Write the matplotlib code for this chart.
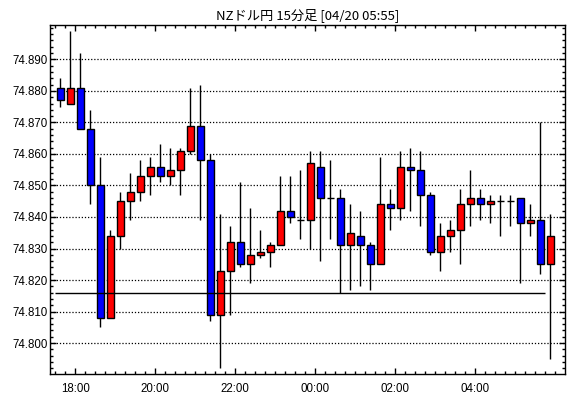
# NZD/JPY 15-minute candles
import matplotlib
matplotlib.use("Agg")
import matplotlib.pyplot as plt
from matplotlib.ticker import MultipleLocator, FixedLocator

# candle data, 17:30 .. 05:45 every 15 min
opens = [74.881, 74.876, 74.881, 74.868, 74.850, 74.808, 74.834, 74.845, 74.848, 74.853,
         74.856, 74.853, 74.855, 74.861, 74.869, 74.858, 74.809, 74.823, 74.832, 74.825,
         74.828, 74.829, 74.831, 74.842, 74.839, 74.839, 74.856, 74.846, 74.846, 74.831,
         74.834, 74.831, 74.825, 74.844, 74.843, 74.856, 74.855, 74.847, 74.829, 74.834,
         74.836, 74.844, 74.846, 74.844, 74.845, 74.845, 74.846, 74.838, 74.839, 74.825]
closes = [74.877, 74.881, 74.868, 74.850, 74.808, 74.834, 74.845, 74.848, 74.853, 74.856,
          74.853, 74.855, 74.861, 74.869, 74.858, 74.809, 74.823, 74.832, 74.825, 74.828,
          74.829, 74.831, 74.842, 74.840, 74.839, 74.857, 74.846, 74.846, 74.831, 74.835,
          74.831, 74.825, 74.844, 74.843, 74.856, 74.855, 74.847, 74.829, 74.834, 74.836,
          74.844, 74.846, 74.844, 74.845, 74.845, 74.845, 74.838, 74.839, 74.825, 74.834]
highs = [74.884, 74.899, 74.892, 74.874, 74.859, 74.836, 74.848, 74.854, 74.858, 74.859,
         74.863, 74.862, 74.862, 74.881, 74.882, 74.860, 74.841, 74.837, 74.851, 74.843,
         74.836, 74.832, 74.853, 74.853, 74.855, 74.861, 74.861, 74.858, 74.849, 74.844,
         74.842, 74.832, 74.859, 74.849, 74.861, 74.862, 74.861, 74.848, 74.838, 74.839,
         74.849, 74.855, 74.849, 74.847, 74.847, 74.847, 74.846, 74.844, 74.870, 74.841]
lows = [74.875, 74.876, 74.868, 74.844, 74.805, 74.808, 74.830, 74.839, 74.845, 74.847,
        74.851, 74.850, 74.847, 74.860, 74.839, 74.807, 74.792, 74.809, 74.824, 74.819,
        74.827, 74.824, 74.831, 74.838, 74.833, 74.830, 74.826, 74.833, 74.816, 74.817,
        74.818, 74.817, 74.825, 74.836, 74.839, 74.842, 74.837, 74.828, 74.823, 74.829,
        74.825, 74.837, 74.839, 74.838, 74.834, 74.837, 74.819, 74.834, 74.822, 74.795]
ref_level = 74.816
price_ticks = [74.800, 74.810, 74.820, 74.830, 74.840, 74.850, 74.860, 74.870, 74.880, 74.890]
tick_labels = ["18:00", "20:00", "22:00", "00:00", "02:00", "04:00"]
title = "NZドル円 15分足 [04/20 05:55]"

plt.rcParams['font.family'] = ['Liberation Sans', 'DejaVu Sans']

fig = plt.figure(figsize=(5.7, 3.98), dpi=100)
ax = fig.add_axes([49.7 / 570, 1 - 374.3 / 398, (565 - 49.7) / 570, (374.3 - 24.7) / 398])

n = len(opens)
x = list(range(n))

# wicks
ax.vlines(x, lows, highs, color="black", linewidth=1.0, zorder=2)

# bodies
for i in x:
    o, c = opens[i], closes[i]
    if c == o:
        ax.hlines(o, i - 0.33, i + 0.33, color="black", linewidth=1.0, zorder=3)
        continue
    col = "#ff0000" if c > o else "#0000ff"
    ax.bar(i, abs(c - o), bottom=min(o, c), width=0.66, color=col,
           edgecolor="black", linewidth=1.0, zorder=3)

ax.hlines(ref_level, -0.5, n - 1.5, color="black", linewidth=1.0, zorder=4)

ax.set_xlim(-1.06, 50.47)
ax.set_ylim(74.7901, 74.901)

# y axis
ax.yaxis.set_major_locator(FixedLocator(price_ticks))
ax.yaxis.set_minor_locator(MultipleLocator(0.002))
ax.yaxis.set_major_formatter(matplotlib.ticker.FormatStrFormatter("%.3f"))
ax.grid(axis="y", which="major", color="black", linestyle=(0, (1, 1.5)), linewidth=0.9)

# x axis: tick at the start of each 15 min slot, first slot is 17:30
major_pos = [1.5, 9.5, 17.5, 25.5, 33.5, 41.5]
ax.xaxis.set_major_locator(FixedLocator(major_pos))
ax.xaxis.set_minor_locator(FixedLocator([i - 0.5 for i in range(n + 1)]))
ax.set_xticklabels(tick_labels)

ax.tick_params(which="both", direction="in", top=True, right=True, width=1.0, colors="black")
ax.tick_params(which="major", length=4, labelsize=8.3, pad=1.5)
ax.tick_params(which="minor", length=2.5)
ax.tick_params(axis="x", which="major", pad=6)

for s in ax.spines.values():
    s.set_linewidth(1.0)

ax.set_title(title, fontsize=9.5, family=["Noto Sans CJK JP", "DejaVu Sans"], pad=4)

fig.savefig("out.png", dpi=100)
